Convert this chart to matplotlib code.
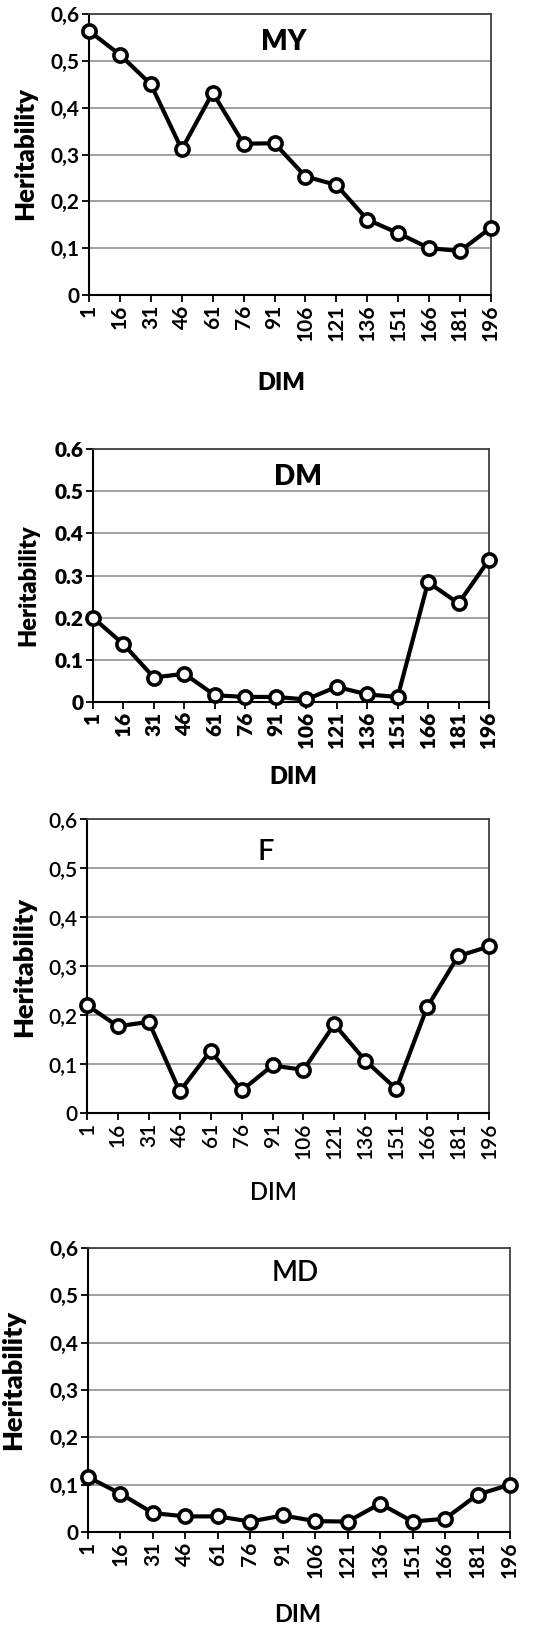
import matplotlib
matplotlib.use("Agg")
import matplotlib.pyplot as plt
import numpy as np

plt.rcParams['font.family'] = ['Lato', 'DejaVu Sans']

dim = [1, 16, 31, 46, 61, 76, 91, 106, 121, 136, 151, 166, 181, 196]
my_h = [0.564, 0.513, 0.450, 0.311, 0.432, 0.323, 0.324, 0.253, 0.235, 0.161, 0.132, 0.100, 0.094, 0.144]
dm_h = [0.200, 0.137, 0.058, 0.067, 0.016, 0.012, 0.012, 0.006, 0.036, 0.018, 0.012, 0.284, 0.234, 0.337]
f_h = [0.220, 0.177, 0.186, 0.044, 0.127, 0.046, 0.097, 0.088, 0.181, 0.107, 0.049, 0.216, 0.320, 0.340]
md_h = [0.116, 0.081, 0.040, 0.033, 0.033, 0.022, 0.035, 0.023, 0.022, 0.060, 0.022, 0.028, 0.079, 0.100]
y_ticks = [0, 0.1, 0.2, 0.3, 0.4, 0.5, 0.6]

W, H = 544, 1627
fig = plt.figure(figsize=(W / 100, H / 100), dpi=100)


def fx(x):
    return x / W


def fy(y):
    return 1 - y / H


# name, data, box (left, top, right, bottom px), decimal sep,
# title pos, title size, title weight, ylabel pos, ylabel size,
# xlabel pos, tick weight, xlabel weight
panels = [
    ("MY", my_h, (89, 14, 491, 295), ",", (284, 42), 20, "heavy", (25, 153), 18.5, (281, 383), "bold", "heavy"),
    ("DM", dm_h, (93, 449, 489, 702), ".", (298, 477), 20, "heavy", (28, 585), 17, (293, 777), "heavy", "heavy"),
    ("F", f_h, (87, 819, 489, 1113), ",", (266, 852), 21, "semibold", (24, 967), 19.5, (273, 1192), "semibold", "semibold"),
    ("MD", md_h, (88, 1248, 510, 1532), ",", (295, 1273), 20, "semibold", (13, 1380), 19.5, (298, 1615), "bold", "bold"),
]

for name, vals, box, sep, tpos, tsize, tw, ypos, ysize, xpos, tickw, xw in panels:
    l, t, r, b = box
    ax = fig.add_axes([fx(l), fy(b), fx(r) - fx(l), fy(t) - fy(b)])
    idx = np.arange(len(dim))
    ax.plot(idx, vals, color="black", lw=3.0, marker="o", ms=9.5,
            mfc="white", mec="black", mew=2.6, zorder=3, clip_on=False)
    ax.set_xlim(0, len(dim) - 1)
    ax.set_ylim(0, 0.6)
    ax.set_xticks(idx)
    ax.set_xticklabels([str(d) for d in dim], rotation=90, fontsize=15,
                       fontweight=tickw)
    ax.set_yticks(y_ticks)
    ylabs = ["0"] + [("%.1f" % v).replace(".", sep) for v in y_ticks[1:]]
    ax.set_yticklabels(ylabs, fontsize=15, fontweight=tickw)
    ax.tick_params(axis="both", direction="out", length=5, width=1.3,
                   color="black", pad=2)
    ax.grid(axis="y", color="#999999", lw=1.3)
    ax.set_axisbelow(True)
    for s in ["left", "bottom"]:
        ax.spines[s].set_color("black")
        ax.spines[s].set_linewidth(1.5)
    for s in ["top", "right"]:
        ax.spines[s].set_color("#404040")
        ax.spines[s].set_linewidth(1.3)

    fig.text(fx(tpos[0]), fy(tpos[1]), name, fontsize=tsize, fontweight=tw,
             ha="center", va="center")
    fig.text(fx(ypos[0]), fy(ypos[1]), "Heritability", fontsize=ysize,
             fontweight="heavy", rotation=90, ha="center", va="center")
    fig.text(fx(xpos[0]), fy(xpos[1]), "DIM", fontsize=17, fontweight=xw,
             ha="center", va="center")

fig.savefig("out.png", dpi=100)
